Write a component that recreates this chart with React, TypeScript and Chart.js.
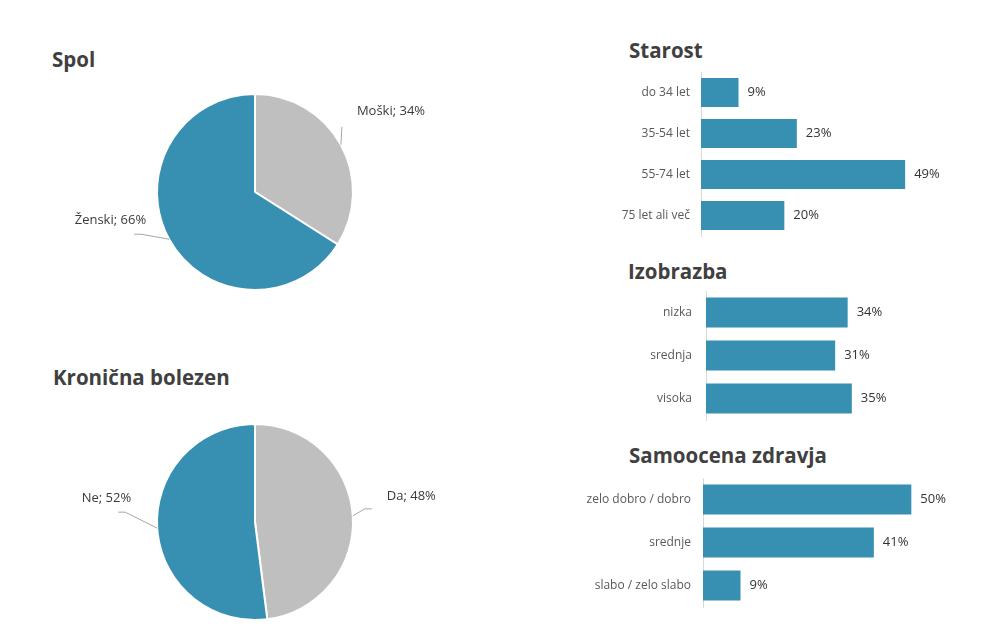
import React, { useEffect, useRef } from "react";
import { Chart, registerables } from "chart.js";

Chart.register(...registerables);
Chart.defaults.font.family = "'Open Sans', sans-serif";

const TEAL = "#3790b1";
const GREY = "#bfbfbf";

// pie data
const spolLabels = ["Moški", "Ženski"];
const spolValues = [34, 66];
const bolezenLabels = ["Da", "Ne"];
const bolezenValues = [48, 52];

// bar data
const starostLabels = ["do 34 let", "35-54 let", "55-74 let", "75 let ali več"];
const starostValues = [9, 23, 49, 20];
const izobrazbaLabels = ["nizka", "srednja", "visoka"];
const izobrazbaValues = [34, 31, 35];
const zdravjeLabels = ["zelo dobro / dobro", "srednje", "slabo / zelo slabo"];
const zdravjeValues = [50, 41, 9];

type Place = { line: number[][]; text: number[]; align: CanvasTextAlign };

// where the outside labels sit, relative to the slice's edge point
const spolPlaces: Place[] = [
  { line: [[1, -18]], text: [16, -33], align: "left" },
  { line: [[-28, -5], [-35, -5]], text: [-23, -19], align: "right" },
];
const bolezenPlaces: Place[] = [
  { line: [[12, -7], [19, -7]], text: [34, -20], align: "left" },
  { line: [[-32, -16], [-39, -16]], text: [-26, -30], align: "right" },
];

const PieBox = ({ labels, values, places, left, top, width, height }: any) => {
  const ref = useRef<HTMLCanvasElement>(null);

  useEffect(() => {
    if (!ref.current) return;
    const labelPlugin = {
      id: "pieLabels",
      afterDraw(chart: any) {
        const ctx = chart.ctx;
        const meta = chart.getDatasetMeta(0);
        meta.data.forEach((arc: any, i: number) => {
          const { x, y, startAngle, endAngle, outerRadius } = arc.getProps(
            ["x", "y", "startAngle", "endAngle", "outerRadius"],
            true
          );
          const mid = (startAngle + endAngle) / 2;
          const ax = x + Math.cos(mid) * outerRadius;
          const ay = y + Math.sin(mid) * outerRadius;
          const p = places[i];
          ctx.save();
          ctx.strokeStyle = "#a6a6a6";
          ctx.lineWidth = 1;
          ctx.beginPath();
          ctx.moveTo(ax, ay);
          p.line.forEach(([dx, dy]: number[]) => ctx.lineTo(ax + dx, ay + dy));
          ctx.stroke();
          ctx.font = "13px 'Open Sans', sans-serif";
          ctx.fillStyle = "#3a3a3a";
          ctx.textAlign = p.align;
          ctx.textBaseline = "middle";
          ctx.fillText(`${labels[i]}; ${values[i]}%`, ax + p.text[0], ay + p.text[1]);
          ctx.restore();
        });
      },
    };

    const chart = new Chart(ref.current, {
      type: "pie",
      data: {
        labels: labels,
        datasets: [
          {
            data: values,
            backgroundColor: [GREY, TEAL],
            borderColor: "#ffffff",
            borderWidth: 2,
          },
        ],
      },
      options: {
        animation: false,
        responsive: false,
        radius: 98,
        plugins: {
          legend: { display: false },
          tooltip: { enabled: false },
        },
      } as any,
      plugins: [labelPlugin],
    });
    return () => chart.destroy();
  }, []);

  return (
    <canvas
      ref={ref}
      width={width}
      height={height}
      style={{ position: "absolute", left, top, width, height }}
    />
  );
};

const BarBox = ({ labels, values, axisWidth, tickPad, padRight, barPct, left, top, width, height }: any) => {
  const ref = useRef<HTMLCanvasElement>(null);

  useEffect(() => {
    if (!ref.current) return;
    const valuePlugin = {
      id: "barValues",
      afterDatasetsDraw(chart: any) {
        const ctx = chart.ctx;
        const meta = chart.getDatasetMeta(0);
        ctx.save();
        ctx.font = "13px 'Open Sans', sans-serif";
        ctx.fillStyle = "#333333";
        ctx.textAlign = "left";
        ctx.textBaseline = "middle";
        meta.data.forEach((bar: any, i: number) => {
          ctx.fillText(`${values[i]}%`, bar.x + 9, bar.y);
        });
        ctx.restore();
      },
    };

    const chart = new Chart(ref.current, {
      type: "bar",
      data: {
        labels: labels,
        datasets: [
          {
            data: values,
            backgroundColor: TEAL,
            barPercentage: barPct,
            categoryPercentage: 1,
          },
        ],
      },
      options: {
        indexAxis: "y",
        animation: false,
        responsive: false,
        layout: { padding: { top: 24, bottom: 24, left: 0, right: padRight } },
        scales: {
          x: { display: false, min: 0, max: 60 },
          y: {
            grid: { display: false, drawTicks: false },
            border: { display: true, color: "#d9d9d9", width: 1 },
            ticks: { color: "#595959", font: { size: 12 }, padding: tickPad },
            afterFit: (s: any) => {
              s.width = axisWidth;
            },
          },
        },
        plugins: {
          legend: { display: false },
          tooltip: { enabled: false },
        },
      },
      plugins: [valuePlugin],
    });
    return () => chart.destroy();
  }, []);

  return (
    <canvas
      ref={ref}
      width={width}
      height={height}
      style={{ position: "absolute", left, top, width, height }}
    />
  );
};

const titleStyle: React.CSSProperties = {
  position: "absolute",
  margin: 0,
  fontSize: 20.5,
  lineHeight: "21px",
  fontWeight: 700,
  color: "#404040",
  whiteSpace: "nowrap",
};

export default function App() {
  return (
    <div
      style={{
        position: "absolute",
        left: 0,
        top: 0,
        width: 1002,
        height: 634,
        overflow: "hidden",
        background: "#ffffff",
        fontFamily: "'Open Sans', sans-serif",
      }}
    >
      <div style={{ ...titleStyle, left: 52, top: 49 }}>Spol</div>
      <div style={{ ...titleStyle, left: 53, top: 367 }}>Kronična bolezen</div>
      <div style={{ ...titleStyle, left: 629, top: 40 }}>Starost</div>
      <div style={{ ...titleStyle, left: 628, top: 261 }}>Izobrazba</div>
      <div style={{ ...titleStyle, left: 629, top: 445 }}>Samoocena zdravja</div>

      <PieBox labels={spolLabels} values={spolValues} places={spolPlaces} left={40} top={82} width={430} height={220} />
      <PieBox labels={bolezenLabels} values={bolezenValues} places={bolezenPlaces} left={40} top={412} width={430} height={220} />

      <BarBox labels={starostLabels} values={starostValues} axisWidth={131} tickPad={11} padRight={49} barPct={0.71}
        left={570} top={48} width={430} height={212} />
      <BarBox labels={izobrazbaLabels} values={izobrazbaValues} axisWidth={136} tickPad={14} padRight={44} barPct={0.7}
        left={570} top={267} width={430} height={177} />
      <BarBox labels={zdravjeLabels} values={zdravjeValues} axisWidth={133} tickPad={12} padRight={47} barPct={0.7}
        left={570} top={454} width={430} height={177} />
    </div>
  );
}
